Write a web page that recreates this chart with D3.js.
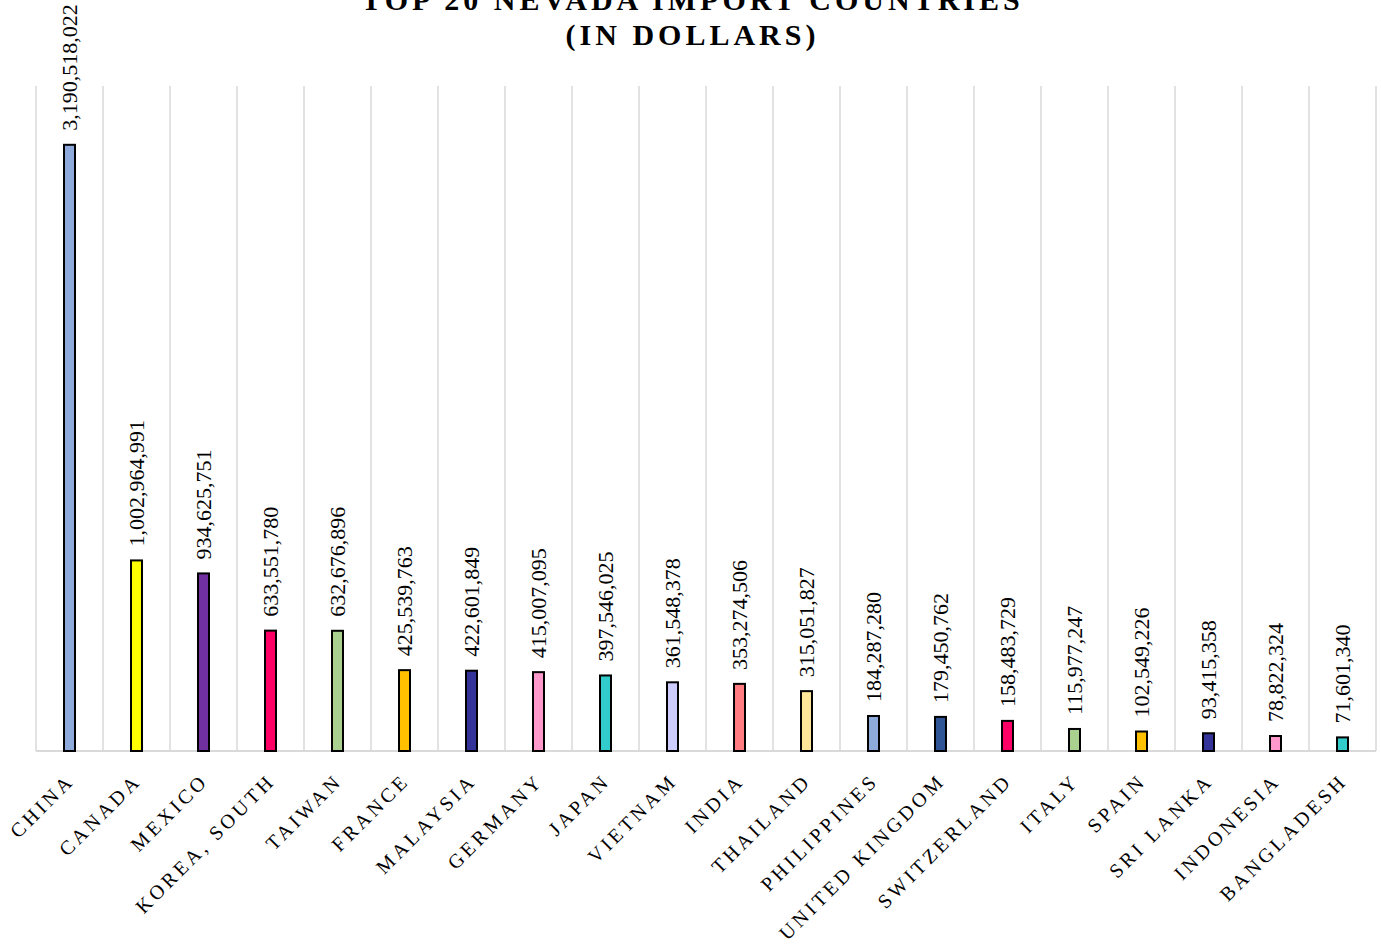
<!DOCTYPE html>
<html lang="en">
<head>
<meta charset="utf-8">
<title>Top 20 Nevada Import Countries</title>
<script src="https://d3js.org/d3.v7.min.js"></script>
<style>
  body { margin: 0; background: #fff; }
  text { font-family: "Liberation Serif", "Times New Roman", serif; }
</style>
</head>
<body>
<script>

// data
var countries = ["CHINA", "CANADA", "MEXICO", "KOREA, SOUTH", "TAIWAN", "FRANCE", "MALAYSIA",
  "GERMANY", "JAPAN", "VIETNAM", "INDIA", "THAILAND", "PHILIPPINES", "UNITED KINGDOM",
  "SWITZERLAND", "ITALY", "SPAIN", "SRI LANKA", "INDONESIA", "BANGLADESH"];

var imports = [3190518022, 1002964991, 934625751, 633551780, 632676896, 425539763, 422601849,
  415007095, 397546025, 361548378, 353274506, 315051827, 184287280, 179450762,
  158483729, 115977247, 102549226, 93415358, 78822324, 71601340];

var barColors = ["#8eaadb", "#ffff00", "#7030a0", "#ff0066", "#a9d08e", "#ffc000", "#333399",
  "#ff99cc", "#33cccc", "#ccccff", "#ff7c80", "#ffe699", "#8eaadb", "#2f5597",
  "#ff0066", "#a9d08e", "#ffc000", "#333399", "#ff99cc", "#33cccc"];

var titleLines = ["TOP 20 NEVADA IMPORT COUNTRIES", "(IN DOLLARS)"];

//canvas
var width = 1381,
    height = 945,
    plotLeft = 36,
    plotRight = 1376,
    plotTop = 86,
    plotBottom = 751;

var svg = d3.select("body").append("svg")
  .attr("width", width)
  .attr("height", height);

var x = d3.scaleBand()
  .domain(countries)
  .range([plotLeft, plotRight]);

var y = d3.scaleLinear()
  .domain([0, 3500000000])
  .range([plotBottom, plotTop]);

var fmt = d3.format(",");

//title (first line runs off the top, as in the original)
svg.selectAll("text.title")
  .data(titleLines)
  .enter().append("text")
  .attr("class", "title")
  .attr("x", width / 2 + 2)
  .attr("y", function(d, i) { return 10 + i * 35; })
  .attr("text-anchor", "middle")
  .style("font-size", "30px")
  .style("font-weight", "bold")
  .style("letter-spacing", "4px")
  .text(function(d) { return d; });

//vertical gridlines on category boundaries
var edges = countries.map(function(c) { return x(c); }).concat([plotRight]);
svg.selectAll("line.grid")
  .data(edges)
  .enter().append("line")
  .attr("class", "grid")
  .attr("x1", function(d) { return d; })
  .attr("x2", function(d) { return d; })
  .attr("y1", plotTop)
  .attr("y2", plotBottom)
  .style("stroke", "#d9d9d9")
  .style("stroke-width", 1.5);

//baseline
svg.append("line")
  .attr("x1", plotLeft)
  .attr("x2", plotRight)
  .attr("y1", plotBottom)
  .attr("y2", plotBottom)
  .style("stroke", "#d9d9d9")
  .style("stroke-width", 2);

var barW = 11;

//bars
svg.selectAll("rect.bar")
  .data(imports)
  .enter().append("rect")
  .attr("class", "bar")
  .attr("x", function(d, i) { return x(countries[i]) + x.bandwidth() / 2 - barW / 2; })
  .attr("y", function(d) { return y(d); })
  .attr("width", barW)
  .attr("height", function(d) { return plotBottom - y(d); })
  .style("fill", function(d, i) { return barColors[i]; })
  .style("stroke", "#000")
  .style("stroke-width", 2);

//value labels
svg.selectAll("text.val")
  .data(imports)
  .enter().append("text")
  .attr("class", "val")
  .attr("transform", function(d, i) {
    var cx = x(countries[i]) + x.bandwidth() / 2;
    return "translate(" + cx + "," + (y(d) - 14) + ") rotate(-90)";
  })
  .attr("dy", "0.35em")
  .style("font-size", "22px")
  .text(function(d) { return fmt(d); });

//category labels
svg.selectAll("text.cat")
  .data(countries)
  .enter().append("text")
  .attr("class", "cat")
  .attr("transform", function(d) {
    var cx = x(d) + x.bandwidth() / 2;
    return "translate(" + (cx + 6) + "," + 782 + ") rotate(-45)";
  })
  .attr("text-anchor", "end")
  .style("font-size", "20px")
  .style("letter-spacing", "3.5px")
  .text(function(d) { return d; });

</script>
</body>
</html>
